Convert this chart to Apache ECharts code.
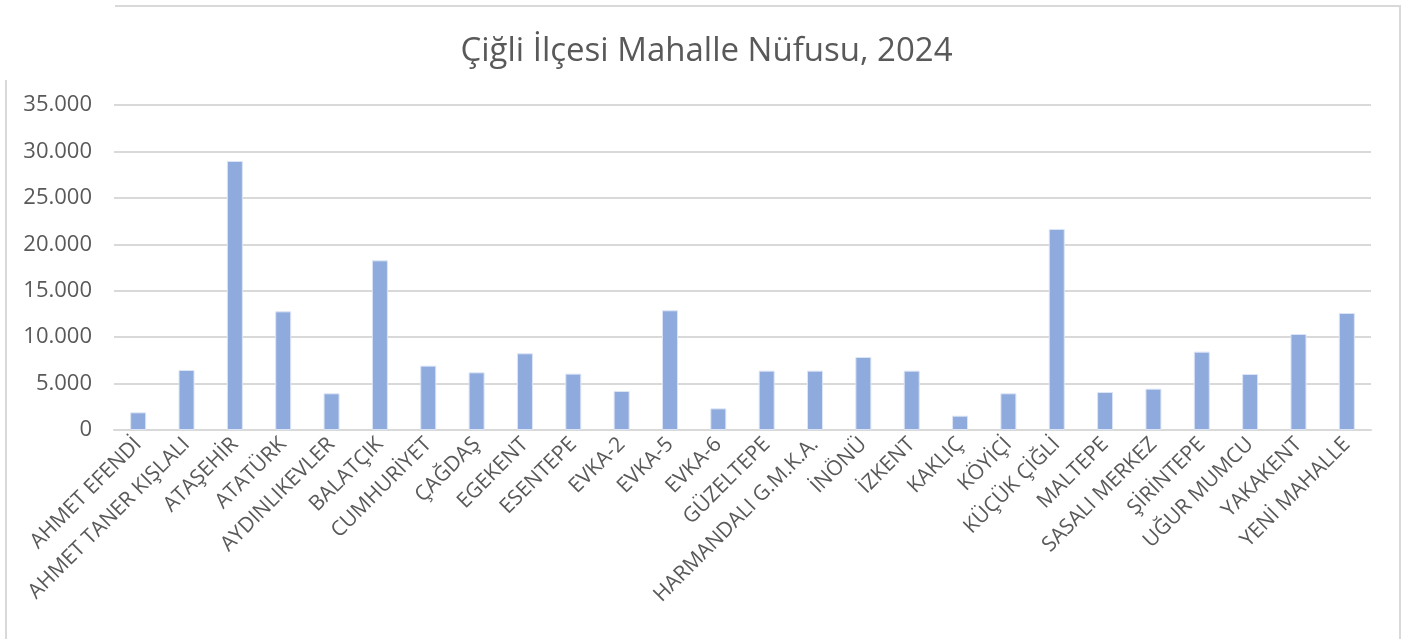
<!DOCTYPE html>
<html>
<head>
<meta charset="utf-8">
<script src="https://cdn.jsdelivr.net/npm/echarts@6/dist/echarts.min.js"></script>
<style>
  html, body { margin: 0; padding: 0; background: #fff; }
  #chart { width: 1413px; height: 639px; }
</style>
</head>
<body>
<div id="chart"></div>
<script>
const neighbourhoods = [
  'AHMET EFENDİ', 'AHMET TANER KIŞLALI', 'ATAŞEHİR', 'ATATÜRK', 'AYDINLIKEVLER',
  'BALATÇIK', 'CUMHURİYET', 'ÇAĞDAŞ', 'EGEKENT', 'ESENTEPE', 'EVKA-2', 'EVKA-5',
  'EVKA-6', 'GÜZELTEPE', 'HARMANDALI G.M.K.A.', 'İNÖNÜ', 'İZKENT', 'KAKLIÇ',
  'KÖYİÇİ', 'KÜÇÜK ÇİĞLİ', 'MALTEPE', 'SASALI MERKEZ', 'ŞİRİNTEPE', 'UĞUR MUMCU',
  'YAKAKENT', 'YENİ MAHALLE'
]
const population = [
  1900, 6460, 28970, 12780, 3950,
  18270, 6930, 6210, 8260, 6070, 4200, 12890,
  2330, 6390, 6390, 7860, 6390, 1540,
  3950, 21650, 4090, 4450, 8440, 6030,
  10340, 12600
]
const yMax = 35000
const yStep = 5000

const font = '"Open Sans", "Noto Sans", sans-serif'
const textColor = '#595959'
const lineColor = '#D9D9D9'

const chart = echarts.init(document.getElementById('chart'))
chart.setOption({
  animation: false,
  backgroundColor: '#fff',
  title: {
    text: 'Çiğli İlçesi Mahalle Nüfusu, 2024',
    left: 'center',
    top: 30,
    textStyle: { fontFamily: font, fontSize: 33, fontWeight: 'normal', color: textColor },
  },
  graphic: [
    { type: 'line', shape: { x1: 115, y1: 6, x2: 1401, y2: 6 }, style: { stroke: lineColor, lineWidth: 2 } },
    { type: 'line', shape: { x1: 1400, y1: 6, x2: 1400, y2: 639 }, style: { stroke: lineColor, lineWidth: 2 } },
    { type: 'line', shape: { x1: 6, y1: 80, x2: 6, y2: 639 }, style: { stroke: lineColor, lineWidth: 2 } },
  ],
  grid: { left: 114, right: 42, top: 105, bottom: 209, outerBoundsMode: 'none' },
  xAxis: {
    type: 'category',
    data: neighbourhoods,
    axisTick: { show: false },
    axisLine: { lineStyle: { color: lineColor, width: 2 } },
    axisLabel: {
      interval: 0,
      rotate: 45,
      margin: 11,
      fontFamily: font,
      fontSize: 21,
      color: textColor,
    },
  },
  yAxis: {
    type: 'value',
    min: 0,
    max: yMax,
    interval: yStep,
    axisLine: { show: false },
    axisTick: { show: false },
    splitLine: { lineStyle: { color: lineColor, width: 2 } },
    axisLabel: {
      margin: 22,
      fontFamily: font,
      fontSize: 22,
      color: textColor,
      formatter: (v) => v.toLocaleString('de-DE'),
    },
  },
  series: [
    {
      type: 'bar',
      data: population,
      barWidth: 16,
      itemStyle: { color: '#8FAADC', borderColor: '#DCE5F5', borderWidth: 1 },
    },
  ],
})
</script>
</body>
</html>
